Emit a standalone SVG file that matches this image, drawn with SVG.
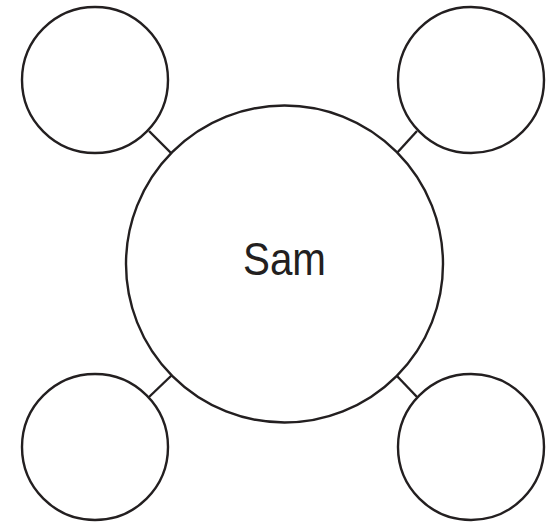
<svg xmlns="http://www.w3.org/2000/svg" width="546" height="523" viewBox="0 0 546 523">
<style>
.c{fill:#fff;stroke:#231f20;stroke-width:2.4}
.l{stroke:#231f20;stroke-width:2.4;fill:none}
.t{font-family:"Liberation Sans",Arial,sans-serif;font-size:46px;fill:#231f20;text-anchor:middle}
</style>
<rect width="546" height="523" fill="#fff"/>
<g id="connectors">
<line class="l" x1="149" y1="131" x2="172" y2="154"/>
<line class="l" x1="417" y1="131" x2="396" y2="154"/>
<line class="l" x1="149" y1="397" x2="172" y2="375"/>
<line class="l" x1="417" y1="397" x2="396" y2="375"/>
</g>
<g id="center"><circle class="c" cx="284.5" cy="264" r="158.5"/><text class="t" x="284.5" y="275" textLength="83" lengthAdjust="spacingAndGlyphs">Sam</text></g>
<g id="tl"><circle class="c" cx="95" cy="80" r="73"/></g>
<g id="tr"><circle class="c" cx="471" cy="80" r="73"/></g>
<g id="bl"><circle class="c" cx="95" cy="447" r="73"/></g>
<g id="br"><circle class="c" cx="471" cy="447" r="73"/></g>
</svg>
